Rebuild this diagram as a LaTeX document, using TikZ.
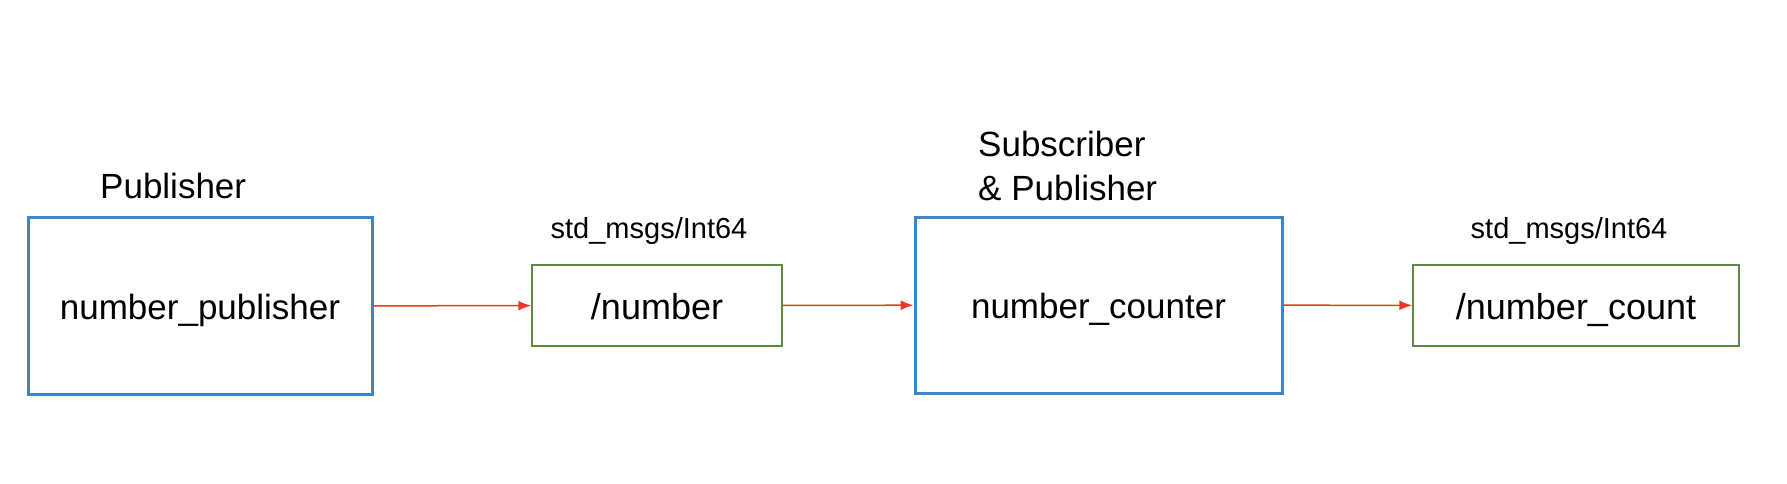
\documentclass[tikz,border=0pt]{standalone}
\usepackage{fontspec}
\setmainfont{Liberation Sans}
\usetikzlibrary{arrows.meta}
\definecolor{nodeblue}{HTML}{3D85C6}
\definecolor{topicgreen}{HTML}{5E8A45}
\definecolor{arrowred}{HTML}{E8392A}
\begin{document}
\begin{tikzpicture}[x=1pt,y=-1pt,
  nodebox/.style={draw=nodeblue,line width=3pt,inner sep=0pt,
    font=\fontsize{35}{42}\selectfont,text height=35pt,text depth=8pt},
  topicbox/.style={draw=topicgreen,line width=1.5pt,inner sep=0pt,
    minimum height=81pt,
    font=\fontsize{36}{43}\selectfont,text height=35pt,text depth=8pt},
  biglabel/.style={inner sep=0pt,font=\fontsize{35}{44}\selectfont},
  typelabel/.style={inner sep=0pt,font=\fontsize{29}{35}\selectfont},
  flow/.style={draw=arrowred,line width=1.5pt,-{Latex[length=13pt,width=10pt]}}]
\useasboundingbox (0,0) rectangle (1787,483);
\node[nodebox,minimum width=344pt,minimum height=177pt] (pub) at (200,306) {number\_publisher};
\node[topicbox,minimum width=250pt] (num) at (657,305.5) {/number};
\node[nodebox,minimum width=367pt,minimum height=176pt] (cnt) at (1098.5,305) {number\_counter};
\node[topicbox,minimum width=326pt] (numc) at (1576,305.5) {/number\_count};
\node[biglabel,anchor=base west] (publbl) at (100,198) {Publisher};
\node[biglabel,anchor=north west,align=left] (cntlbl) at (978,131) {Subscriber\\\& Publisher};
\node[typelabel,anchor=base] (t1) at (649,238) {std\_msgs/Int64};
\node[typelabel,anchor=base] (t2) at (1569,238) {std\_msgs/Int64};
\draw[flow] (pub) -- (num);
\draw[flow] (num) -- (cnt);
\draw[flow] (cnt) -- (numc);
\end{tikzpicture}
\end{document}
